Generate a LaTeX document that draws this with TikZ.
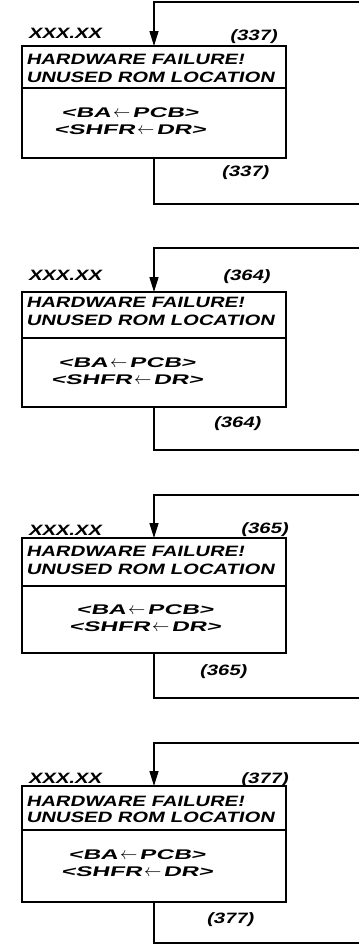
\documentclass[tikz,border=0pt]{standalone}
\usepackage{fontspec}
\newfontfamily\hand{Liberation Sans Bold}[FakeSlant=0.22,FakeStretch=1.35]
\newfontfamily\handb{Liberation Sans Bold}[FakeSlant=0.22,FakeStretch=1.75]
\newcommand\larr{\hspace{2pt}{\fontsize{16}{16}\selectfont$\leftarrow$}\hspace{2pt}}
\usetikzlibrary{arrows.meta,calc}
\begin{document}
\begin{tikzpicture}[x=1pt,y=-1pt,
  txt/.style={font=\hand\fontsize{15}{17}\selectfont, inner sep=0pt, outer sep=0pt, text height=11pt, text depth=1.5pt},
  btxt/.style={font=\handb\fontsize{14}{17}\selectfont, inner sep=0pt, outer sep=0pt, align=center},
  box/.style={draw, line width=1.6pt, rectangle, inner sep=0pt, outer sep=0pt, minimum width=264pt},
  flow/.style={line width=1.4pt},
  into/.style={flow, -{Triangle[length=15pt,width=9pt]}}]
\useasboundingbox (0,0) rectangle (359,951);
\foreach \i/\tl/\bt/\dv/\bb/\bl/\num/\xy/\ny/\nx/\ta/\tb/\by/\bx/\lx/\ly in {
  1/2/46/88/158/204/337/34/36/277/60/78/121.5/130/245/172,
  2/248/292/338/407/450/364/276/276/270/303/321/371.5/127/237/423,
  3/495/538/586/653/698/365/531/529/288/552/570/618/145/223/671,
  4/743/786/830/902/943/377/779/779/288/802/818/863.5/137/230/919}
{
  \node[box, minimum height={(\bb-\bt)*1pt}] (b\i) at (154,{(\bt+\bb)/2}) {};
  \coordinate (dl\i) at (b\i.west |- 0,\dv);
  \coordinate (dr\i) at (b\i.east |- 0,\dv);
  \draw[line width=1.4pt] (dl\i) -- (dr\i);
  \coordinate (in\i) at (359,\tl);
  \coordinate (out\i) at (359,\bl);
  \draw[into] (in\i) -| (b\i.north);
  \draw[flow] (b\i.south) |- (out\i);
  \node[txt, anchor=west] (x\i) at (28,\xy) {XXX.XX};
  \node[txt, anchor=east] (n\i) at (\nx,\ny) {(\num)};
  \node[txt, anchor=west] (t\i) at (26,\ta) {HARDWARE FAILURE!};
  \node[txt, anchor=west] (u\i) at (26,\tb) {UNUSED ROM LOCATION};
  \node[btxt] (p\i) at (\bx,\by) {<BA\larr PCB>\\<SHFR\larr DR>};
  \node[txt] (m\i) at (\lx,\ly) {(\num)};
}
\end{tikzpicture}
\end{document}
